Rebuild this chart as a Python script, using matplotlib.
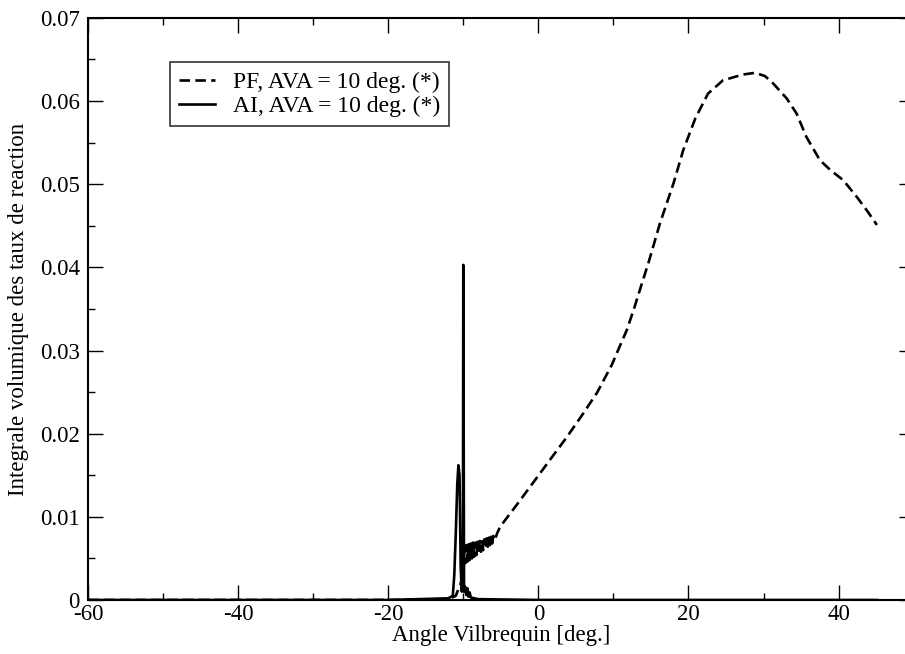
import matplotlib
matplotlib.use("Agg")
import matplotlib.pyplot as plt
from matplotlib.ticker import MultipleLocator

plt.rcParams['font.family'] = ['Liberation Serif', 'DejaVu Serif']
plt.rcParams['axes.unicode_minus'] = False

# PF, AVA = 10 deg. (dashed)
pf_angle = [-60, -20, -12, -11.0, -10.7, -10.4, -10.1,
            -9.9, -9.75, -9.6, -9.45, -9.3, -9.15, -9.0, -8.85, -8.7, -8.55, -8.4, -8.25, -8.1,
            -7.95, -7.8, -7.65, -7.5, -7.35, -7.2, -7.05, -6.9, -6.75, -6.6, -6.45, -6.3, -6.15,
            -6.0, -5.8, -5.5,
            -5.1, -3.0, -0.7, 1.5, 3.8, 5.8, 7.8, 9.8, 10.6, 11.8, 12.8, 13.7, 14.65,
            16.2, 18.0, 19.3, 20.9, 22.6, 24.6, 27.3, 28.9, 30.2, 31.3, 33.1,
            34.4, 35.7, 37.5, 38.9, 40.6, 42.4, 43.8, 45.1]
pf_value = [0.0, 0.0, 0.0001, 0.0005, 0.0012, 0.0018, 0.0030,
            0.0062, 0.0044, 0.0066, 0.0046, 0.0067, 0.0048, 0.0068, 0.0050, 0.0069, 0.0052, 0.0069, 0.0054, 0.0070,
            0.0056, 0.0071, 0.0058, 0.0072, 0.0060, 0.0073, 0.0062, 0.0074, 0.0064, 0.0075, 0.0066, 0.0076, 0.0068,
            0.0077, 0.0072, 0.0080,
            0.0088, 0.0113, 0.0141, 0.0168, 0.0196, 0.0222, 0.0249, 0.0283, 0.0300, 0.0325, 0.0352, 0.0378, 0.0405,
            0.0453, 0.0501, 0.0541, 0.0579, 0.0609, 0.0625, 0.0632, 0.0634, 0.0630, 0.0621, 0.0603,
            0.0585, 0.0557, 0.0529, 0.0517, 0.0505, 0.0485, 0.0468, 0.0451]

# AI, AVA = 10 deg. (solid)
ai_angle = [-60, -20, -12.0, -11.4, -11.2, -11.0, -10.8, -10.65, -10.5, -10.35, -10.2,
            -10.05, -10.0, -9.9, -9.75, -9.6, -9.45, -9.3, -9.15, -9.0, -8.5, -8.0, 0, 45.1]
ai_value = [0.0, 0.0, 0.0002, 0.0005, 0.0030, 0.0080, 0.0140, 0.0162, 0.0150, 0.0040, 0.0010,
            0.0030, 0.0403, 0.0010, 0.0016, 0.0006, 0.0014, 0.0004, 0.0009, 0.0003, 0.0002, 0.0001, 0.0, 0.0]

fig = plt.figure(figsize=(9.05, 6.54), dpi=100)
ax = fig.add_axes([0.0972, 0.0826, 0.9124, 0.890])

ax.plot(pf_angle, pf_value, color='black', lw=1.9, dashes=(4, 2),
        label='PF, AVA = 10 deg. (*)')
ax.plot(ai_angle, ai_value, color='black', lw=1.9,
        label='AI, AVA = 10 deg. (*)')

ax.set_xlim(-60, 50)
ax.set_ylim(0, 0.07)
ax.xaxis.set_major_locator(MultipleLocator(20))
ax.xaxis.set_minor_locator(MultipleLocator(10))
ax.yaxis.set_major_locator(MultipleLocator(0.01))
ax.yaxis.set_minor_locator(MultipleLocator(0.005))
ax.yaxis.set_major_formatter(plt.FuncFormatter(lambda v, p: '0' if v == 0 else f'{v:.2f}'))
ax.tick_params(which='both', direction='in', top=True, right=True, labelsize=16.5, width=1)
ax.tick_params(which='major', length=11)
ax.tick_params(which='minor', length=5)
ax.tick_params(axis='x', pad=3)
ax.tick_params(axis='y', pad=6)
for s in ax.spines.values():
    s.set_linewidth(1.5)

ax.set_xlabel('Angle Vilbrequin [deg.]', fontsize=16.5, labelpad=0)
ax.set_ylabel('Integrale volumique des taux de reaction', fontsize=16.5, labelpad=8)

leg = ax.legend(loc='upper left', bbox_to_anchor=(0.0993, 0.924), fontsize=17,
                frameon=True, fancybox=False, edgecolor='black', handlelength=1.5,
                handletextpad=0.75, borderpad=0.4, labelspacing=0.1, borderaxespad=0)
leg.get_frame().set_linewidth(1.2)

fig.savefig('out.png', dpi=100)
